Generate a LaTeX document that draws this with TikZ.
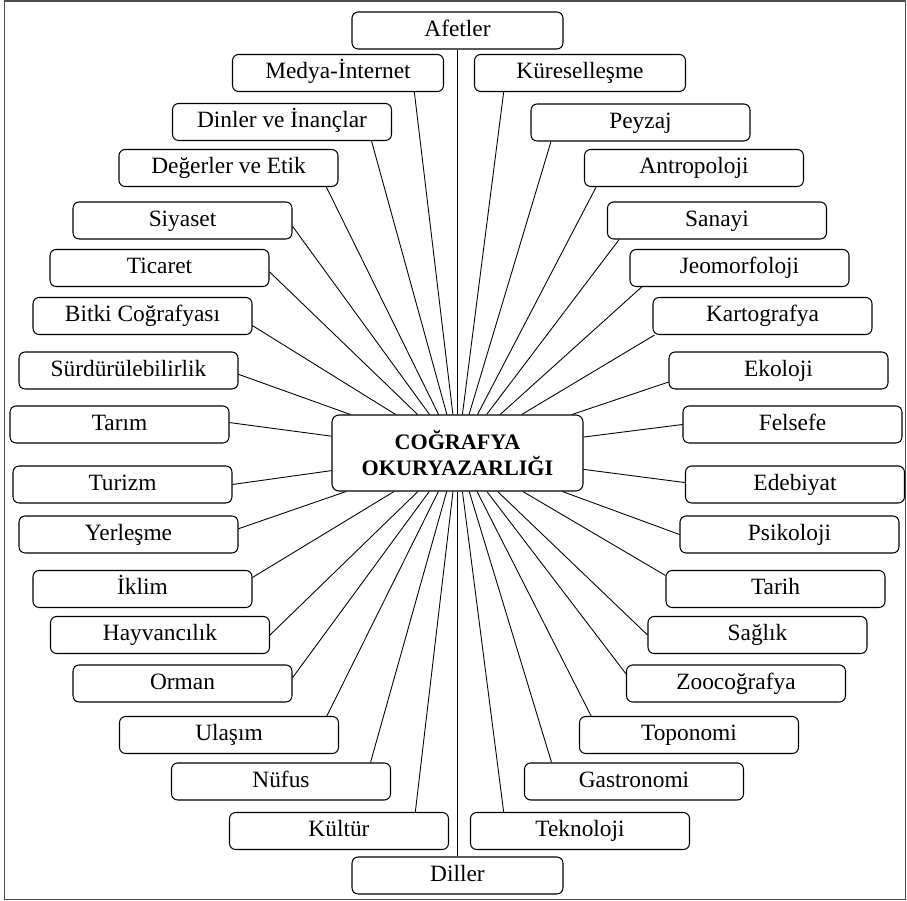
\documentclass[tikz,border=0pt]{standalone}
\usepackage{fontspec}
\setmainfont{Liberation Serif}
\tikzset{
  konu/.style={draw, rounded corners=3.5pt, line width=0.6pt, minimum width=4.38cm,
    minimum height=0.74cm, inner sep=0pt, text height=8.8pt, text depth=2pt,
    font=\fontsize{13.3}{16}\selectfont},
  kisakonu/.style={konu, minimum width=4.22cm},
  merkez/.style={draw, rounded corners=4pt, line width=0.6pt, minimum width=5.02cm,
    minimum height=1.52cm, inner sep=0pt, align=center,
    font=\fontsize{12.6}{15.2}\selectfont\bfseries},
  bag/.style={line width=0.5pt}
}
\begin{document}
\begin{tikzpicture}[x=0.02cm, y=-0.02cm]
            \useasboundingbox (0,0) rectangle (907,901);
            \draw [line width=0.9pt, gray!60!black] (4.5,1.2) rectangle (905.3,899.5);

            \node [merkez] (hub) at (457.5, 453) {COĞRAFYA\\OKURYAZARLIĞI};

            \node [kisakonu] (afetler) at (457.5, 30.5) {Afetler};
            \node [kisakonu] (medya) at (338, 73) {Medya-İnternet};
            \node [kisakonu] (kuresel) at (580, 73) {Küreselleşme};
            \node [konu] (dinler) at (282, 122) {Dinler ve İnançlar};
            \node [konu] (peyzaj) at (640.5, 122.5) {Peyzaj};
            \node [konu] (degerler) at (228.5, 168) {Değerler ve Etik};
            \node [konu] (antropoloji) at (694, 168) {Antropoloji};
            \node [konu] (siyaset) at (182.5, 220.5) {Siyaset};
            \node [konu] (sanayi) at (717, 220.5) {Sanayi};
            \node [konu] (ticaret) at (159.5, 268) {Ticaret};
            \node [konu] (jeomorfoloji) at (739.5, 268) {Jeomorfoloji};
            \node [konu] (bitki) at (142.5, 316) {Bitki Coğrafyası};
            \node [konu] (kartografya) at (762.5, 316) {Kartografya};
            \node [konu] (surdur) at (128.5, 370.5) {Sürdürülebilirlik};
            \node [konu] (ekoloji) at (778.5, 370.5) {Ekoloji};
            \node [konu] (tarim) at (119.5, 424.5) {Tarım};
            \node [konu] (felsefe) at (792.5, 424.5) {Felsefe};
            \node [konu] (turizm) at (122.5, 484.5) {Turizm};
            \node [konu] (edebiyat) at (795, 484.5) {Edebiyat};
            \node [konu] (yerlesme) at (128.5, 534.5) {Yerleşme};
            \node [konu] (psikoloji) at (789.5, 534.5) {Psikoloji};
            \node [konu] (iklim) at (142.5, 589) {İklim};
            \node [konu] (tarih) at (775.5, 589) {Tarih};
            \node [konu] (hayvan) at (160, 635) {Hayvancılık};
            \node [konu] (saglik) at (757.5, 635) {Sağlık};
            \node [konu] (orman) at (182.5, 683.5) {Orman};
            \node [konu] (zoo) at (736, 683.5) {Zoocoğrafya};
            \node [konu] (ulasim) at (229, 735) {Ulaşım};
            \node [konu] (toponomi) at (689, 735) {Toponomi};
            \node [konu] (nufus) at (281, 781.5) {Nüfus};
            \node [konu] (gastronomi) at (634, 781.5) {Gastronomi};
            \node [konu] (kultur) at (339, 831) {Kültür};
            \node [konu] (teknoloji) at (580, 831) {Teknoloji};
            \node [kisakonu] (diller) at (457.5, 875.5) {Diller};

            % ust yari
            \draw [bag] (hub) -- (afetler.south);
            \draw [bag] (hub) -- (medya.-14.4);
            \draw [bag] (hub) -- (kuresel.-166.1);
            \draw [bag] (hub) -- (dinler.-12.6);
            \draw [bag] (hub) -- (peyzaj.-168.4);
            \draw [bag] (hub) -- (degerler.-11.4);
            \draw [bag] (hub) -- (antropoloji.-169.7);
            \draw [bag] (hub) -- (siyaset.-3.4);
            \draw [bag] (hub) -- (sanayi.-169.7);
            \draw [bag] (hub) -- (ticaret.-2.6);
            \draw [bag] (hub) -- (jeomorfoloji.-169.5);
            \draw [bag] (hub) -- (bitki.-5.7);
            \draw [bag] (hub) -- (kartografya.-170.3);
            \draw [bag] (hub) -- (surdur.-2.4);
            \draw [bag] (hub) -- (ekoloji.-174);
            \draw [bag] (hub) -- (tarim.1.3);
            \draw [bag] (hub) -- (felsefe.180);

            % alt yari
            \draw [bag] (hub) -- (turizm.0.8);
            \draw [bag] (hub) -- (edebiyat.179.2);
            \draw [bag] (hub) -- (yerlesme.3.4);
            \draw [bag] (hub) -- (psikoloji.180);
            \draw [bag] (hub) -- (iklim.6.3);
            \draw [bag] (hub) -- (tarih.173.7);
            \draw [bag] (hub) -- (hayvan.0.5);
            \draw [bag] (hub) -- (saglik.180);
            \draw [bag] (hub) -- (orman.3.4);
            \draw [bag] (hub) -- (zoo.175.5);
            \draw [bag] (hub) -- (ulasim.11);
            \draw [bag] (hub) -- (toponomi.169.2);
            \draw [bag] (hub) -- (nufus.12);
            \draw [bag] (hub) -- (gastronomi.167.9);
            \draw [bag] (hub) -- (kultur.14.6);
            \draw [bag] (hub) -- (teknoloji.166);
            \draw [bag] (hub) -- (diller.north);
        \end{tikzpicture}
\end{document}
